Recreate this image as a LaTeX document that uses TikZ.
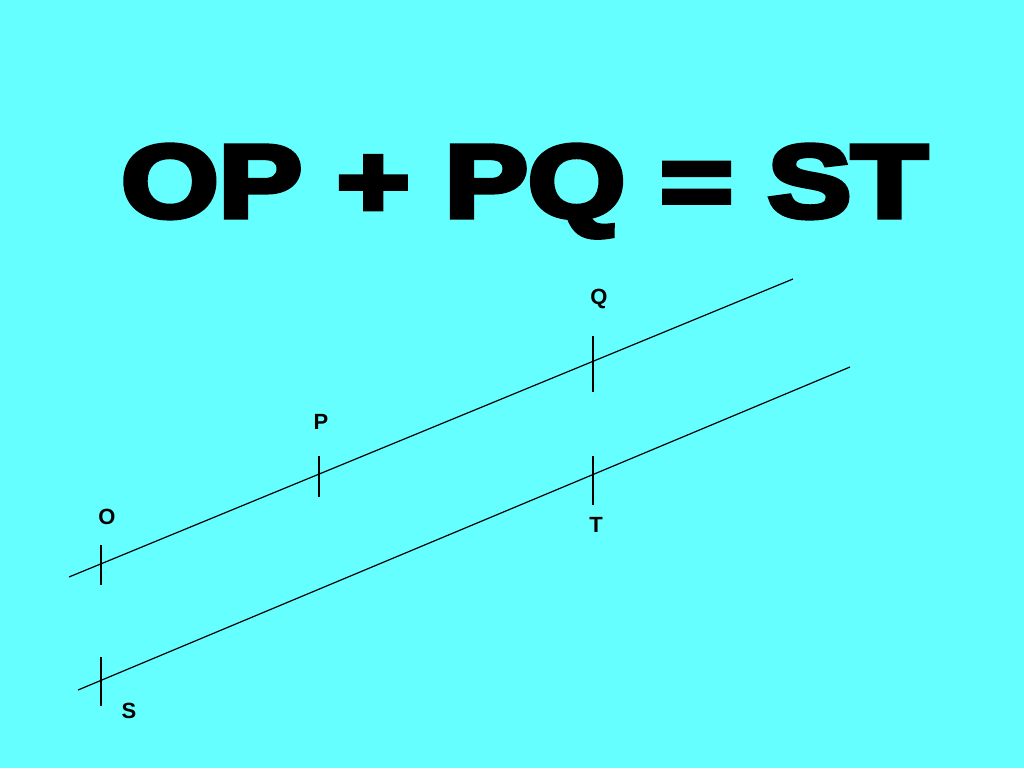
\documentclass[tikz,border=0pt]{standalone}
\usepackage{fontspec}
\setmainfont{Liberation Sans}
\newfontfamily\heavyfont[FakeBold=5]{Liberation Sans Bold}
\newfontfamily\labfont{Liberation Sans Bold}
\definecolor{bgcyan}{RGB}{102,255,255}
\begin{document}
\begin{tikzpicture}[x=1pt,y=-1pt,
  seg/.style={line width=1.2pt,black},
  tick/.style={line width=1.2pt,black},
  lab/.style={font=\labfont\fontsize{22}{24}\selectfont,inner sep=0pt,anchor=center}]
\fill[bgcyan] (0,0) rectangle (1024,768);
\useasboundingbox (0,0) rectangle (1024,768);
% title
\node[inner sep=0pt,anchor=base] (title) at (524.5,217)
  {\resizebox{806pt}{72pt}{\heavyfont OP + PQ = ST}};
% upper line
\coordinate (u1) at (69,577);
\coordinate (u2) at (793,279);
\draw[seg] (u1) -- (u2);
% lower line
\coordinate (l1) at (78,690);
\coordinate (l2) at (850,367);
\draw[seg] (l1) -- (l2);
% ticks
\coordinate (Oa) at (101,545); \coordinate (Ob) at (101,585);
\coordinate (Pa) at (319,456); \coordinate (Pb) at (319,497);
\coordinate (Qa) at (593,336); \coordinate (Qb) at (593,392);
\coordinate (Ta) at (593,456); \coordinate (Tb) at (593,505);
\coordinate (Sa) at (101,657); \coordinate (Sb) at (101,706);
\draw[tick] (Oa) -- (Ob);
\draw[tick] (Pa) -- (Pb);
\draw[tick] (Qa) -- (Qb);
\draw[tick] (Ta) -- (Tb);
\draw[tick] (Sa) -- (Sb);
% labels
\node[lab] (O) at (107,517) {O};
\node[lab] (P) at (321,422) {P};
\node[lab] (Q) at (599,299) {Q};
\node[lab] (T) at (596,525) {T};
\node[lab] (S) at (129,711) {S};
\end{tikzpicture}
\end{document}
